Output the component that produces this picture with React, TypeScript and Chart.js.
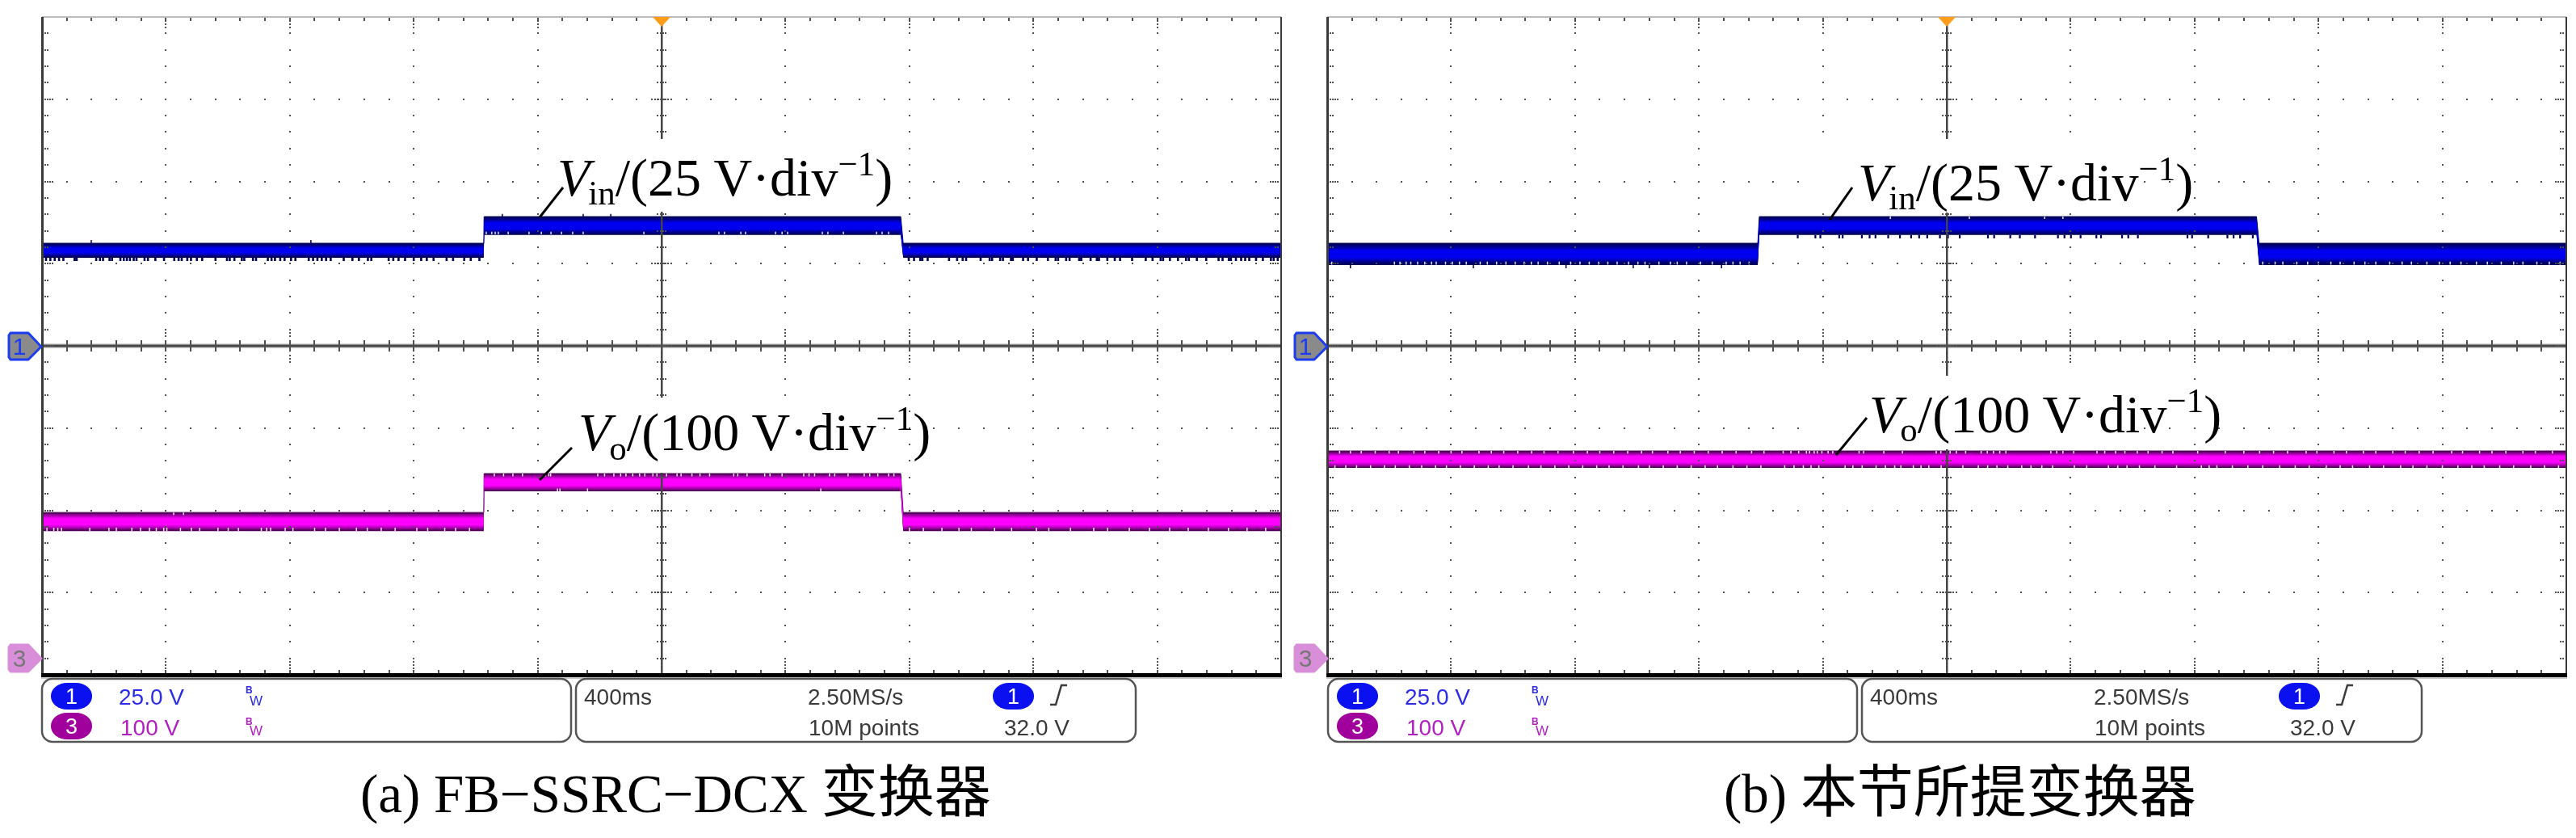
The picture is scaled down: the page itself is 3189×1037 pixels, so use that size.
import React, { useEffect, useRef } from "react";
import { Chart, registerables } from "chart.js";

Chart.register(...registerables);

// ---- Data (time in ms, CH1 in V, CH3 in V) ----
const timeMin = -2000;
const timeMax = 2000;
const timeMajorStep = 400;
const timeMinorStep = 80;
const ch1Min = -100;
const ch1Max = 100;
const ch1MajorStep = 25;
const ch1MinorStep = 5;
const ch3Min = -20.4;
const ch3Max = 779.6;

const stepTimesA = [-2000, -574, -573, 772, 780, 2000];
const vinUpperA = [31.2, 31.2, 39.3, 39.3, 31.2, 31.2];
const vinLowerA = [26.8, 26.8, 33.7, 33.7, 26.8, 26.8];
const voUpperA = [177, 177, 224.3, 224.3, 177, 177];
const voLowerA = [154.4, 154.4, 202.6, 202.6, 154.4, 154.4];

const stepTimesB = [-2000, -610, -605, 1000, 1008, 2000];
const vinUpperB = [31.2, 31.2, 39.3, 39.3, 31.2, 31.2];
const vinLowerB = [24.6, 24.6, 33.7, 33.7, 24.6, 24.6];
const voTimesB = [-2000, 2000];
const voUpperB = [251.8, 251.8];
const voLowerB = [231.1, 231.1];

const vinLowTeethA = [-1987, -1973, -1959, -1945, -1931, -1895, -1888, -1825, -1813, -1803, -1782, -1774, -1747, -1736, -1726, -1716, -1704, -1695, -1669, -1658, -1634, -1606, -1573, -1559, -1549, -1531, -1519, -1500, -1483, -1440, -1403, -1394, -1379, -1355, -1347, -1319, -1309, -1271, -1259, -1248, -1231, -1217, -1196, -1182, -1139, -1125, -1111, -1097, -1083, -1068, -1026, -998, -977, -948, -937, -881, -866, -849, -828, -800, -776, -758, -736, -694, -673, -637, -616, -588, 798, 815, 835, 842, 859, 928, 954, 972, 983, 1030, 1059, 1067, 1093, 1102, 1128, 1134, 1167, 1183, 1211, 1247, 1272, 1280, 1306, 1317, 1348, 1355, 1385, 1405, 1412, 1439, 1463, 1480, 1519, 1563, 1585, 1611, 1619, 1641, 1667, 1693, 1702, 1728, 1758, 1798, 1811, 1831, 1838, 1854, 1871, 1884, 1897, 1919, 1941, 1967, 1976, 1989];
const vinHighNotchesA = [-566, -548, -537, -527, -495, -428, -388, -357, -323, -287, -253, -57, 185, 203, 256, 271, 368, 389, 407, 519, 537, 587, 694, 712, 733];
const vinHighSpikesA = [-514, -253, -164];
const vinLowSpikesA = [-1841, -1132];

const voHighTopNotchesA = [-540, -510, -480, -449, -375, -364, -358, -206, -184, -154, -132, -115, -93, -71, -54, -28, -15, 16, 50, 63, 98, 124, 155, 233, 246, 276, 333, 350, 389, 459, 476, 494, 542, 559, 602, 654, 672, 698, 733, 750];
const voHighBottomNotchesA = [-336, -328, -239, 514];
const voLowBottomNotchesA = [-1984, -1962, -1949, -1937, -1846, -1784, -1760, -1710, -1682, -1653, -1631, -1607, -1597, -1553, -1518, -1491, -1432, -1399, -1366, -1292, -1275, -1262, -1215, -1190, -1120, -1085, -1040, -985, -950, -905, -860, -790, -755, -700, -665, -620, 800, 845, 905, 960, 1000, 1075, 1130, 1210, 1250, 1320, 1395, 1440, 1510, 1575, 1640, 1700, 1765, 1830, 1890, 1950];
const voLowTopNotchesA = [-1575, -1543];

const vinLowNotchesB = [-1985, -1783, -1765, -1745, -1730, -1708, -1685, -1663, -1648, -1618, -1596, -1573, -1551, -1506, -1483, -1453, -1423, -1393, -1364, -1341, -1319, -1289, -1251, -1214, -1184, -1154, -1124, -1094, -1064, -1027, -997, -974, -929, -892, -870, -840, -795, -757, -712, -690, -667, -638, 1020, 1060, 1085, 1130, 1165, 1200, 1240, 1270, 1315, 1350, 1385, 1430, 1470, 1500, 1550, 1590, 1625, 1660, 1710, 1745, 1790, 1830, 1860, 1905, 1945, 1980];
const vinLowSpikesB = [-1925, -1528, -1229, -1012, -960, -727];
const vinHighTeethB = [-481, -424, -408, -347, -336, -274, -249, -230, -189, -151, -115, -89, -63, -22, 4, 42, 133, 153, 205, 236, 285, 359, 380, 401, 432, 483, 498, 566, 586, 617, 777, 792, 844, 906, 926, 947, 988];
const vinHighNotchesB = [-182, 73, 316, 375];
const voTopNotchesB = [-1960, -1925, -1890, -1845, -1800, -1770, -1720, -1685, -1640, -1600, -1565, -1510, -1470, -1430, -1385, -1340, -1300, -1255, -1205, -1160, -1120, -1075, -1030, -985, -950, -900, -860, -815, -770, -725, -680, -630, -590, -528, -503, -478, -453, -443, -428, -418, -403, -383, -368, -283, -268, -203, -143, -34, -19, 11, 31, 61, 111, 131, 151, 171, 191, 336, 355, 375, 410, 485, 510, 545, 575, 615, 650, 695, 730, 810, 899, 959, 1010, 1055, 1100, 1160, 1195, 1250, 1290, 1345, 1385, 1440, 1480, 1525, 1570, 1630, 1665, 1720, 1760, 1805, 1860, 1900, 1955];
const voBottomNotchesB = [-1975, -1940, -1905, -1860, -1815, -1780, -1735, -1695, -1650, -1615, -1570, -1525, -1480, -1445, -1400, -1350, -1310, -1265, -1220, -1175, -1130, -1090, -1045, -995, -960, -915, -870, -825, -780, -740, -690, -645, -600, -523, -493, -463, -438, -413, -328, -303, -273, -228, -198, -168, -148, -108, -83, -58, -18, 52, 102, 132, 162, 197, 242, 272, 307, 342, 412, 452, 522, 552, 582, 622, 672, 742, 822, 847, 872, 922, 972, 1020, 1075, 1125, 1170, 1225, 1270, 1310, 1365, 1410, 1465, 1505, 1550, 1600, 1650, 1695, 1735, 1785, 1830, 1885, 1930, 1975];

const ch1Ground = 0;
const triggerTime = 0;

const vinPalette = ["#00005a", "#00007c", "#0000a4", "#0000cc", "#0000f0"];
const voPalette = ["#52005a", "#8a0090", "#b800bc", "#e000e4", "#ff00ff"];
const layerShrink = [0, 0.08, 0.16, 0.24, 0.31];

// ---- Layout ----
const PAD = 8;
const AREA_W = 1534;
const AREA_H = 814;
const AREA_TOP = 21;
const LEFTS = [52, 1643];

type Seg = { t: number[]; from: number; to: number; color: string; axis: string; w?: number };

function bandDatasets(times: number[], upper: number[], lower: number[], palette: string[], axis: string, base: number) {
  const out: any[] = [];
  layerShrink.forEach((s, i) => {
    const up = upper.map((u, k) => u - (u - lower[k]) * s);
    const lo = lower.map((l, k) => l + (upper[k] - l) * s);
    const order = base - i;
    out.push({
      type: "line", yAxisID: axis, order,
      data: times.map((x, k) => ({ x, y: up[k] })),
      borderWidth: i === 0 ? 1 : 0, borderColor: palette[0], pointRadius: 0,
      backgroundColor: palette[i], fill: "+1", tension: 0,
    });
    out.push({
      type: "line", yAxisID: axis, order,
      data: times.map((x, k) => ({ x, y: lo[k] })),
      borderWidth: 0, pointRadius: 0, fill: false, tension: 0,
    });
  });
  return out;
}

function segDataset(s: Seg) {
  const data: any[] = [];
  s.t.forEach((x) => {
    data.push({ x, y: s.from }, { x, y: s.to }, { x, y: null });
  });
  return {
    type: "line", yAxisID: s.axis, order: 1, data,
    borderColor: s.color, borderWidth: s.w ?? 1.5, pointRadius: 0, fill: false, spanGaps: false, tension: 0,
  };
}

const NAVY = "#00005a";
const WHITE = "#f2e6f4";
const WHITE_B = "#dfe0f4";

const datasetsA = [
  ...bandDatasets(stepTimesA, vinUpperA, vinLowerA, vinPalette, "y1", 100),
  ...bandDatasets(stepTimesA, voUpperA, voLowerA, voPalette, "y3", 50),
  segDataset({ t: vinLowTeethA, from: 26.8, to: 25.8, color: NAVY, axis: "y1", w: 2.6 }),
  segDataset({ t: vinHighNotchesA, from: 34.7, to: 33.9, color: WHITE_B, axis: "y1" }),
  segDataset({ t: vinHighSpikesA, from: 39.3, to: 40.1, color: NAVY, axis: "y1" }),
  segDataset({ t: vinLowSpikesA, from: 31.2, to: 32.2, color: NAVY, axis: "y1" }),
  segDataset({ t: voHighTopNotchesA, from: 224.3, to: 220.8, color: WHITE, axis: "y3" }),
  segDataset({ t: voHighBottomNotchesA, from: 206.1, to: 202.6, color: WHITE, axis: "y3" }),
  segDataset({ t: voLowBottomNotchesA, from: 158.4, to: 154.4, color: WHITE, axis: "y3" }),
  segDataset({ t: voLowTopNotchesA, from: 177, to: 174, color: WHITE, axis: "y3" }),
];

const datasetsB = [
  ...bandDatasets(stepTimesB, vinUpperB, vinLowerB, vinPalette, "y1", 100),
  ...bandDatasets(voTimesB, voUpperB, voLowerB, voPalette, "y3", 50),
  segDataset({ t: vinLowNotchesB, from: 25.6, to: 24.7, color: WHITE_B, axis: "y1" }),
  segDataset({ t: vinLowSpikesB, from: 24.6, to: 23.6, color: NAVY, axis: "y1" }),
  segDataset({ t: vinHighTeethB, from: 33.7, to: 32.7, color: NAVY, axis: "y1", w: 2.2 }),
  segDataset({ t: vinHighNotchesB, from: 39.3, to: 38.6, color: WHITE_B, axis: "y1" }),
  segDataset({ t: voTopNotchesB, from: 251.8, to: 248.6, color: WHITE, axis: "y3" }),
  segDataset({ t: voBottomNotchesB, from: 234.3, to: 231.1, color: WHITE, axis: "y3" }),
];

const scopeGrid = {
  id: "scopeGrid",
  afterDatasetsDraw(chart: any) {
    const ctx = chart.ctx;
    const sx = chart.scales.x;
    const sy = chart.scales.y1;
    const px = (t: number) => Math.round(sx.getPixelForValue(t));
    const py = (v: number) => Math.round(sy.getPixelForValue(v));
    const L = sx.left, R = sx.right, T = sy.top, B = sy.bottom;
    const cx = px(triggerTime), cy = py(ch1Ground);
    const dot = (x: number, y: number) => ctx.fillRect(x - 1, y - 1, 2, 2);
    ctx.save();

    // centre cross
    ctx.fillStyle = "#cfcfcf";
    ctx.fillRect(L, cy - 3, R - L, 6);
    ctx.fillStyle = "#444444";
    ctx.fillRect(L, cy - 1.5, R - L, 3);
    ctx.fillRect(cx - 1, T, 2.5, B - T);

    ctx.fillStyle = "#505050";
    for (let t = timeMin; t <= timeMax + 0.1; t += timeMinorStep) {
      const x = px(t);
      const major = Math.abs(t % timeMajorStep) < 0.1;
      // top and bottom edge ticks
      ctx.fillRect(x - 1, T, 2, 5);
      ctx.fillRect(x - 1, B - 6, 2, 6);
      // centre horizontal line ticks
      ctx.fillRect(x - 1, cy - 7, 2, 14);
      if (major) {
        [-20, -16, -12, 12, 16, 20].forEach((d) => dot(x, cy + d));
        [5, 9, 13].forEach((d) => { dot(x, T + d); dot(x, B - 3 - d); });
      }
      for (let v = ch1Min + ch1MajorStep; v < ch1Max; v += ch1MajorStep) {
        if (v !== ch1Ground) dot(x, py(v));
      }
    }
    for (let v = ch1Min; v <= ch1Max + 0.1; v += ch1MinorStep) {
      const y = py(v);
      const major = Math.abs(v % ch1MajorStep) < 0.1;
      if (v === ch1Min || v === ch1Max) continue;
      for (let t = timeMin + timeMajorStep; t < timeMax; t += timeMajorStep) {
        if (t !== triggerTime) dot(px(t), y);
      }
      // centre vertical line ticks
      [-5, 5].forEach((d) => dot(cx + d, y));
      ctx.fillRect(cx - 2, y - 1, 5, 2);
      // left and right edge dots
      [4, 7].forEach((d) => { dot(L + d, y); dot(R - d, y); });
      if (major) {
        [-12, -8, -4, 4, 8, 12].forEach((d) => dot(cx + d, y));
        [10, 13].forEach((d) => { dot(L + d, y); dot(R - d, y); });
      }
    }

    // frame
    ctx.fillStyle = "#bcbcbc";
    ctx.fillRect(L, T - 1, R - L, 2);
    ctx.fillStyle = "#3a3a3a";
    ctx.fillRect(L - 1, T, 3, B - T);
    ctx.fillRect(R - 1, T, 2, B - T);
    ctx.fillStyle = "#000000";
    ctx.fillRect(L - 1, B - 2, R - L + 2, 5);
    ctx.fillStyle = "#c8c8c8";
    ctx.fillRect(L - 1, B + 3, R - L + 2, 2);

    // trigger position marker
    ctx.fillStyle = "#ff9c1a";
    ctx.beginPath();
    ctx.moveTo(cx - 11, T);
    ctx.lineTo(cx + 11, T);
    ctx.lineTo(cx, T + 12);
    ctx.closePath();
    ctx.fill();
    ctx.restore();
  },
};

function makeChart(canvas: HTMLCanvasElement, datasets: any[]) {
  return new Chart(canvas, {
    type: "line",
    data: { datasets },
    plugins: [scopeGrid],
    options: {
      animation: false,
      responsive: false,
      maintainAspectRatio: false,
      events: [],
      layout: { padding: PAD },
      plugins: { legend: { display: false }, tooltip: { enabled: false }, title: { display: false } },
      scales: {
        x: { type: "linear", min: timeMin, max: timeMax, display: false },
        y1: { type: "linear", min: ch1Min, max: ch1Max, display: false },
        y3: { type: "linear", min: ch3Min, max: ch3Max, display: false },
      },
    },
  } as any);
}

const SERIF = "'Liberation Serif','Noto Sans CJK SC',serif";
const SANS = "'Liberation Sans',Arial,sans-serif";
const BLUE_TXT = "#2b2be6";
const MAG_TXT = "#b01fc0";
const DARK_TXT = "#3a3a3a";

function Label(p: { x: number; y: number; sub: string; body: string; dx: number; subDy: number; supDy: number }) {
  return (
    <text x={p.x} y={p.y} fontFamily={SERIF} fontSize={66} fill="#000" style={{ whiteSpace: "pre" }}>
      <tspan fontStyle="italic">V</tspan>
      <tspan dx={p.dx} dy={p.subDy} fontSize={43}>{p.sub}</tspan>
      <tspan dy={-p.subDy}>{p.body}</tspan>
      <tspan dy={p.supDy} fontSize={43}>−1</tspan>
      <tspan dy={-p.supDy}>)</tspan>
    </text>
  );
}

function Status({ dx }: { dx: number }) {
  const badge = (x: number, y: number, fill: string, n: string) => (
    <g>
      <rect x={x + dx} y={y} width={51} height={33} rx={20} ry={16} fill={fill} />
      <text x={x + dx + 25.5} y={y + 26} textAnchor="middle" fontFamily={SANS} fontSize={27} fill="#fff">{n}</text>
    </g>
  );
  const t = (x: number, y: number, s: string, fill: string, size = 28, weight = "normal") => (
    <text x={x + dx} y={y} fontFamily={SANS} fontSize={size} fontWeight={weight} fill={fill}>{s}</text>
  );
  return (
    <g>
      <rect x={52 + dx} y={840} width={655} height={78} rx={13} fill="#fff" stroke="#555" strokeWidth={2.5} />
      <rect x={713 + dx} y={840} width={693} height={78} rx={13} fill="#fff" stroke="#555" strokeWidth={2.5} />
      {badge(63, 845, "#0a10f0", "1")}
      {badge(63, 882, "#a0009c", "3")}
      {t(147, 872, "25.0 V", BLUE_TXT)}
      {t(149, 910, "100 V", MAG_TXT)}
      {t(304, 858, "B", BLUE_TXT, 12, "bold")}
      {t(309, 873, "W", BLUE_TXT, 17)}
      {t(304, 897, "B", MAG_TXT, 12, "bold")}
      {t(309, 910, "W", MAG_TXT, 17)}
      {t(723, 872, "400ms", DARK_TXT)}
      {t(1000, 872, "2.50MS/s", DARK_TXT)}
      {t(1001, 910, "10M points", DARK_TXT)}
      {badge(1229, 845, "#0a10f0", "1")}
      <polyline points={`${1300 + dx},872 ${1307 + dx},872 ${1314 + dx},848 ${1321 + dx},848`} fill="none" stroke={DARK_TXT} strokeWidth={2.5} />
      {t(1243, 910, "32.0 V", DARK_TXT)}
    </g>
  );
}

function Marker({ dx, y, n, fill, stroke, color }: { dx: number; y: number; n: string; fill: string; stroke: string; color: string }) {
  const x0 = 11 + dx;
  return (
    <g>
      <polygon
        points={`${x0 + 2},${y} ${x0 + 24},${y} ${x0 + 40},${y + 17} ${x0 + 24},${y + 33} ${x0 + 2},${y + 33} ${x0},${y + 30} ${x0},${y + 3}`}
        fill={fill} stroke={stroke} strokeWidth={3} strokeLinejoin="round"
      />
      <text x={x0 + 13} y={y + 27} textAnchor="middle" fontFamily={SANS} fontSize={30} fill={color}>{n}</text>
    </g>
  );
}

export default function App() {
  const refA = useRef<HTMLCanvasElement>(null);
  const refB = useRef<HTMLCanvasElement>(null);
  useEffect(() => {
    const a = makeChart(refA.current!, datasetsA);
    const b = makeChart(refB.current!, datasetsB);
    return () => { a.destroy(); b.destroy(); };
  }, []);
  const cw = AREA_W + PAD * 2;
  const ch = AREA_H + PAD * 2;
  const canvasStyle = (left: number): React.CSSProperties => ({
    position: "absolute", left: left - PAD, top: AREA_TOP - PAD, width: cw, height: ch, display: "block",
  });
  return (
    <div style={{ position: "absolute", left: 0, top: 0, width: 3189, height: 1037, background: "#fff", overflow: "hidden" }}>
      <canvas ref={refA} width={cw} height={ch} style={canvasStyle(LEFTS[0])} />
      <canvas ref={refB} width={cw} height={ch} style={canvasStyle(LEFTS[1])} />
      <svg width={3189} height={1037} style={{ position: "absolute", left: 0, top: 0 }}>
        {/* white label backgrounds */}
        <rect x={680} y={172} width={430} height={90} fill="#fff" />
        <rect x={690} y={492} width={400} height={93} fill="#fff" />
        <rect x={2240} y={172} width={405} height={91} fill="#fff" />
        <rect x={2250} y={465} width={390} height={91} fill="#fff" />

        <Label x={690} y={242} sub="in" body="/(25 V·div" dx={-2} subDy={11} supDy={-25} />
        <Label x={716} y={557} sub="o" body="/(100 V·div" dx={-2} subDy={12} supDy={-25} />
        <Label x={2300} y={248} sub="in" body="/(25 V·div" dx={-2} subDy={11} supDy={-25} />
        <Label x={2314} y={535} sub="o" body="/(100 V·div" dx={-2} subDy={11} supDy={-25} />

        <line x1={668} y1={269} x2={697} y2={232} stroke="#000" strokeWidth={3} />
        <line x1={668} y1={594} x2={708} y2={554} stroke="#000" strokeWidth={3} />
        <line x1={2265} y1={272} x2={2293} y2={232} stroke="#000" strokeWidth={3} />
        <line x1={2273} y1={563} x2={2311} y2={517} stroke="#000" strokeWidth={3} />

        <Marker dx={0} y={412} n="1" fill="#8a8a8a" stroke="#1c3cf0" color="#1c3cf0" />
        <Marker dx={0} y={798} n="3" fill="#d98ed9" stroke="#d98ed9" color="#777" />
        <Marker dx={1592} y={412} n="1" fill="#8a8a8a" stroke="#1c3cf0" color="#1c3cf0" />
        <Marker dx={1592} y={798} n="3" fill="#d98ed9" stroke="#d98ed9" color="#777" />

        <Status dx={0} />
        <Status dx={1592} />

        <text x={446} y={1005} fontFamily={SERIF} fontSize={67} fill="#000" style={{ whiteSpace: "pre" }}>(a) FB−SSRC−DCX <tspan fontSize={70}>变换器</tspan></text>
        <text x={2134} y={1005} fontFamily={SERIF} fontSize={67} fill="#000" style={{ whiteSpace: "pre" }}>(b) <tspan fontSize={70}>本节所提变换器</tspan></text>
      </svg>
    </div>
  );
}
